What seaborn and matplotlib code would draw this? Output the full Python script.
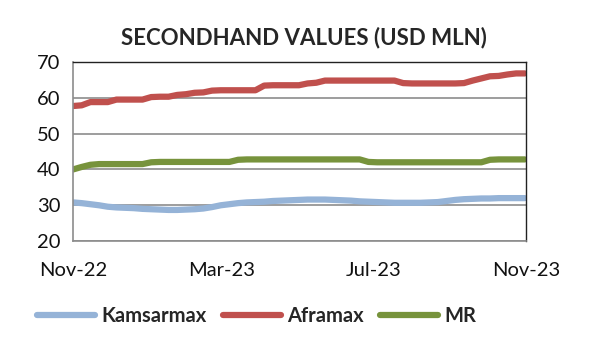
import pandas as pd
import seaborn as sns
import matplotlib.pyplot as plt
import matplotlib.dates as mdates

# weekly secondhand values, USD mln
dates = pd.date_range("2022-11-01", periods=53, freq="7D")

kamsarmax = [30.8, 30.6, 30.3, 30.0, 29.6, 29.4, 29.3, 29.2, 29.0, 28.9,
             28.8, 28.7, 28.7, 28.8, 28.9, 29.1, 29.5, 30.0, 30.3, 30.6,
             30.8, 30.9, 31.0, 31.2, 31.3, 31.4, 31.5, 31.6, 31.6, 31.6,
             31.5, 31.4, 31.3, 31.1, 31.0, 30.9, 30.8, 30.7, 30.7, 30.7,
             30.7, 30.8, 30.9, 31.2, 31.5, 31.7, 31.8, 31.9, 31.9, 32.0,
             32.0, 32.0, 32.0]
aframax = [57.7, 57.9, 58.8, 58.8, 58.8, 59.5, 59.5, 59.5, 59.5, 60.2,
           60.3, 60.3, 60.8, 61.0, 61.4, 61.5, 62.0, 62.1, 62.1, 62.1,
           62.1, 62.1, 63.4, 63.5, 63.5, 63.5, 63.5, 64.0, 64.2, 64.8,
           64.8, 64.8, 64.8, 64.8, 64.8, 64.8, 64.8, 64.8, 64.1, 64.0,
           64.0, 64.0, 64.0, 64.0, 64.0, 64.1, 64.8, 65.4, 66.0, 66.1,
           66.5, 66.8, 66.8]
mr = [40.0, 40.7, 41.3, 41.5, 41.5, 41.5, 41.5, 41.5, 41.5, 42.0,
      42.1, 42.1, 42.1, 42.1, 42.1, 42.1, 42.1, 42.1, 42.1, 42.7,
      42.8, 42.8, 42.8, 42.8, 42.8, 42.8, 42.8, 42.8, 42.8, 42.8,
      42.8, 42.8, 42.8, 42.8, 42.1, 42.0, 42.0, 42.0, 42.0, 42.0,
      42.0, 42.0, 42.0, 42.0, 42.0, 42.0, 42.0, 42.0, 42.7, 42.8,
      42.8, 42.8, 42.8]

series = ["Kamsarmax", "Aframax", "MR"]
colors = ["#95B3D7", "#C0504D", "#77933C"]

df = pd.DataFrame({"Date": dates, "Kamsarmax": kamsarmax,
                   "Aframax": aframax, "MR": mr})
long_df = df.melt(id_vars="Date", var_name="Vessel", value_name="Value")

sns.set_style("white")
plt.rcParams["font.family"] = ["Lato", "DejaVu Sans"]

fig = plt.figure(figsize=(6, 3.52), dpi=100)
ax = fig.add_axes([0.1217, 0.315, 0.755, 0.509])

sns.lineplot(data=long_df, x="Date", y="Value", hue="Vessel",
             hue_order=series, palette=colors, linewidth=4.5,
             solid_capstyle="round", ax=ax)

ax.set_xlim(pd.Timestamp("2022-11-01"), pd.Timestamp("2023-11-01"))
ax.set_ylim(20, 70)
ax.set_yticks(range(20, 71, 10))
ax.set_xticks(pd.to_datetime(["2022-11-01", "2023-03-01",
                              "2023-07-01", "2023-11-01"]))
ax.xaxis.set_major_formatter(mdates.DateFormatter("%b-%y"))
ax.grid(axis="y", color="#8C8C8C", linewidth=1.2)
ax.set_axisbelow(True)
ax.set_xlabel("")
ax.set_ylabel("")

for side in ["left", "bottom"]:
    ax.spines[side].set_color("#8C8C8C")
    ax.spines[side].set_linewidth(1.2)
for side in ["top", "right"]:
    ax.spines[side].set_color("#222222")
    ax.spines[side].set_linewidth(1.0)

ax.tick_params(axis="both", length=5, width=1.2, color="#8C8C8C",
               labelsize=14.5, colors="#8C8C8C", labelcolor="#111111",
               direction="out")
ax.tick_params(axis="x", pad=10)
ax.tick_params(axis="y", pad=4)

ax.set_title("SECONDHAND VALUES (USD MLN)", fontsize=16,
             fontweight="bold", pad=13, x=0.51)

ax.legend(loc="upper center", bbox_to_anchor=(0.405, -0.26), ncol=3,
          frameon=False, handlelength=2.9, columnspacing=0.8,
          handletextpad=0.3, prop={"weight": "bold", "size": 14.5})

fig.savefig("out.png", dpi=100)
